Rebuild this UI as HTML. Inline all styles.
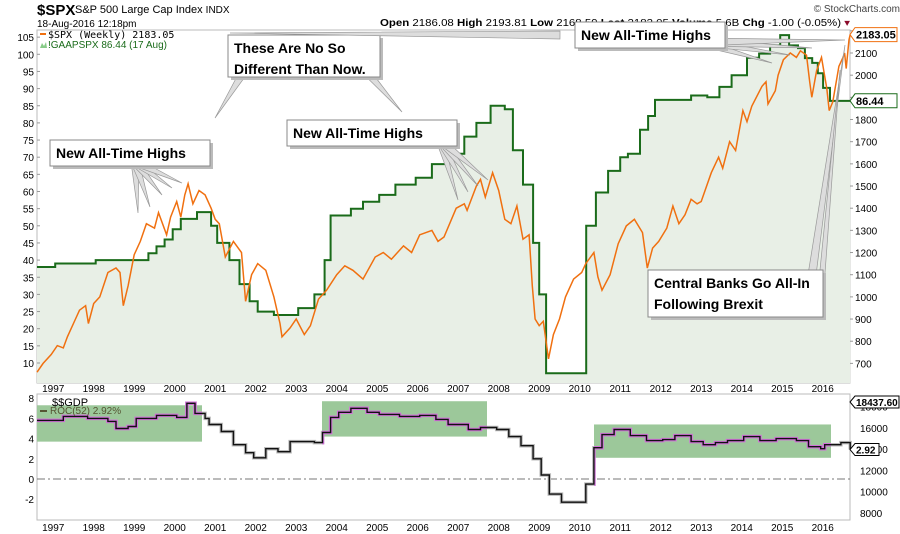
<!DOCTYPE html>
<html><head><meta charset="utf-8"><style>
body{margin:0;background:#fff;width:900px;height:534px;overflow:hidden}
svg{display:block;font-family:"Liberation Sans",sans-serif}
</style></head><body>
<svg id="c" width="900" height="534" viewBox="0 0 900 534">
<g>
<text x="37" y="15" font-size="15" font-weight="bold">$SPX</text>
<text x="75" y="13" font-size="11">S&amp;P 500 Large Cap Index <tspan font-size="10">INDX</tspan></text>
<text x="37" y="27" font-size="10">18-Aug-2016 12:18pm</text>
<text x="380" y="26" font-size="10" textLength="470" lengthAdjust="spacingAndGlyphs"><tspan font-weight="bold">Open</tspan> 2186.08 <tspan font-weight="bold">High</tspan> 2193.81 <tspan font-weight="bold">Low</tspan> 2168.59 <tspan font-weight="bold">Last</tspan> 2183.05 <tspan font-weight="bold">Volume</tspan> 5.6B <tspan font-weight="bold">Chg</tspan> -1.00 (-0.05%) <tspan fill="#8b0a2a">▾</tspan></text>
<text x="900" y="12" font-size="10" fill="#444" text-anchor="end">© StockCharts.com</text>
</g>
<g id="main"></g>
<g id="low"></g>
</svg>
<script>
// ---- data ----
const spxT=[1996.55,1996.7,1996.9,1997.05,1997.2,1997.3,1997.5,1997.6,1997.75,1997.82,1997.95,1998.1,1998.3,1998.5,1998.6,1998.68,1998.8,1998.95,1999.1,1999.25,1999.45,1999.55,1999.75,1999.85,2000.0,2000.1,2000.2,2000.28,2000.4,2000.55,2000.7,2000.85,2000.95,2001.05,2001.2,2001.4,2001.6,2001.7,2001.85,2002.0,2002.2,2002.4,2002.55,2002.6,2002.8,2002.95,2003.15,2003.3,2003.5,2003.7,2003.95,2004.15,2004.35,2004.6,2004.9,2005.1,2005.3,2005.6,2005.8,2006.0,2006.3,2006.45,2006.6,2006.9,2007.1,2007.17,2007.4,2007.5,2007.62,2007.8,2007.95,2008.1,2008.25,2008.4,2008.55,2008.7,2008.78,2008.85,2008.95,2009.05,2009.18,2009.3,2009.45,2009.6,2009.8,2010.0,2010.1,2010.3,2010.4,2010.5,2010.7,2010.9,2011.1,2011.3,2011.5,2011.62,2011.75,2011.9,2012.1,2012.25,2012.4,2012.55,2012.7,2012.85,2012.95,2013.2,2013.38,2013.48,2013.65,2013.8,2013.98,2014.08,2014.2,2014.45,2014.55,2014.6,2014.78,2014.85,2014.98,2015.15,2015.3,2015.4,2015.55,2015.63,2015.68,2015.8,2015.92,2016.05,2016.11,2016.2,2016.35,2016.45,2016.49,2016.53,2016.6,2016.63];
const spxV=[660,700,740,780,770,820,900,940,960,880,970,1000,1110,1130,1110,960,1050,1190,1250,1330,1310,1380,1280,1360,1430,1360,1460,1510,1420,1480,1460,1400,1350,1330,1180,1250,1200,980,1100,1150,1120,1000,880,820,860,900,830,870,990,1030,1100,1140,1120,1080,1180,1200,1170,1230,1200,1280,1300,1250,1270,1400,1420,1390,1500,1530,1450,1560,1480,1350,1330,1410,1260,1280,1050,900,870,890,720,830,900,1000,1080,1110,1150,1200,1090,1030,1100,1240,1320,1350,1290,1130,1220,1250,1310,1410,1330,1370,1440,1420,1430,1560,1630,1580,1700,1660,1840,1790,1860,1950,1970,1870,1930,2000,2070,2100,2080,2110,2090,1970,1900,2020,2080,1940,1840,1880,2040,2080,2100,2030,2160,2183];
const peT=[1996.55,1997.0,1998.0,1999.3,1999.5,1999.7,1999.9,2000.1,2000.5,2000.85,2001.0,2001.3,2001.55,2001.8,2002.0,2002.4,2003.0,2003.4,2003.65,2003.8,2004.3,2004.6,2005.0,2005.4,2005.9,2006.3,2006.7,2007.1,2007.4,2007.75,2008.1,2008.3,2008.55,2008.8,2008.95,2009.12,2010.11,2010.35,2010.65,2010.95,2011.14,2011.44,2011.64,2011.81,2012.7,2013.1,2013.4,2013.7,2014.08,2014.38,2014.65,2014.9,2015.12,2015.34,2015.51,2015.69,2015.83,2015.96,2016.13,2016.63];
const peV=[38,39,40,42,44,46,49,52,54,50,45,40,33,28,25,24,26,30,40,53,55,57,59,62,64,68,71,76,80,85,84,72,62,45,30,7,50,59.7,66,70,71,78,82,86.7,88,87.5,90.5,93.9,99,100.2,102.6,105.6,102.6,101.8,98.9,97.5,94.5,90.2,86.4,86.44];
const gdpT=[1996.55,1997.2,1997.8,1998.3,1998.5,1998.8,1999.0,1999.5,2000.0,2000.25,2000.45,2000.7,2000.8,2001.1,2001.4,2001.7,2001.9,2002.2,2002.5,2002.8,2003.4,2003.6,2003.8,2004.0,2004.3,2004.7,2005.0,2005.5,2006.0,2006.4,2006.7,2007.2,2007.5,2007.9,2008.2,2008.5,2008.8,2009.0,2009.2,2009.5,2009.9,2010.1,2010.3,2010.5,2010.8,2011.2,2011.6,2012.0,2012.3,2012.7,2013.0,2013.3,2013.6,2014.0,2014.4,2014.8,2015.3,2015.6,2015.9,2016.0,2016.4,2016.63];
const gdpV=[5.8,6.2,6.0,5.7,5.0,5.2,6.0,6.3,6.1,7.5,6.5,6.0,5.4,4.7,3.4,2.6,2.1,3.0,2.7,3.7,3.6,4.6,6.1,6.6,7.0,6.6,6.4,6.2,6.3,5.9,5.4,4.9,5.1,4.9,4.2,3.3,2.0,0.4,-1.5,-2.3,-2.3,-0.5,3.1,4.4,4.9,4.3,3.8,3.9,4.3,3.7,3.4,3.6,3.8,4.2,3.8,4.0,3.8,3.2,3.0,3.4,3.6,2.92];
const years=[1997,1998,1999,2000,2001,2002,2003,2004,2005,2006,2007,2008,2009,2010,2011,2012,2013,2014,2015,2016];
const leftTicks=[10,15,20,25,30,35,40,45,50,55,60,65,70,75,80,85,90,95,100,105];
const rightTicks=[700,800,900,1000,1100,1200,1300,1400,1500,1600,1700,1800,1900,2000,2100,2200];
const lowLeftTicks=[-2,0,2,4,6,8];
const lowRightTicks=[8000,10000,12000,14000,16000,18000];

// ---- scales ----
const X=t=>37+(t-1996.55)*40.5;
const YL=v=>363-(v-10)*3.43;
const YR=v=>53+(2100-v)*0.2217;
const YG=v=>479-v*10.1;
const YGR=v=>513-(v-8000)*0.01065;
const NS='http://www.w3.org/2000/svg';
function mk(p,tag,a){const e=document.createElementNS(NS,tag);for(const k in a)e.setAttribute(k,a[k]);p.appendChild(e);return e;}
function stepPts(T,V,ys){let d='';for(let i=0;i<T.length;i++){const x=X(T[i]).toFixed(1);if(i===0)d+='M'+x+','+ys(V[0]).toFixed(1);else d+='L'+x+','+ys(V[i-1]).toFixed(1)+'L'+x+','+ys(V[i]).toFixed(1);}return d;}
const M=document.getElementById('main'),L=document.getElementById('low');

let r=mk(M,'rect',{x:37,y:30,width:813,height:353,fill:'#fff',stroke:'#bbb'});

let d=stepPts(peT,peV,YL);
let f=mk(M,'path',{d:d+'L'+X(2016.63)+',383L37,383Z',fill:'#e8efe6'});

leftTicks.forEach(v=>{let t=mk(M,'text',{x:34,y:YL(v)+4,'font-size':10,'text-anchor':'end'});t.textContent=v;

mk(M,'line',{x1:37,x2:40,y1:YL(v),y2:YL(v),stroke:'#999'});});
rightTicks.forEach(v=>{let t=mk(M,'text',{x:855,y:YR(v)+4,'font-size':10});t.textContent=v;

mk(M,'line',{x1:850,x2:853,y1:YR(v),y2:YR(v),stroke:'#999'});});
years.forEach(y=>{let t=mk(M,'text',{x:X(y)-2,y:392,'font-size':10,'text-anchor':'middle'});t.textContent=y;

let t2=mk(L,'text',{x:X(y)-2,y:531,'font-size':10,'text-anchor':'middle'});t2.textContent=y;
});
let pl=mk(M,'path',{d:d,fill:'none',stroke:'#1a6b1a','stroke-width':2});

let sd=spxT.map((t,i)=>(i?'L':'M')+X(t).toFixed(1)+','+YR(spxV[i]).toFixed(1)).join('');
let sl=mk(M,'path',{d:sd,fill:'none',stroke:'#f07010','stroke-width':1.5});


function wedge(x1,y1,x2,y2,w){const dx=x2-x1,dy=y2-y1,l=Math.hypot(dx,dy),nx=-dy/l*w,ny=dx/l*w;
const p=mk(M,'polygon',{points:`${x1+nx},${y1+ny} ${x1-nx},${y1-ny} ${x2},${y2}`,fill:'#ddd',stroke:'#999','stroke-width':0.7});
}
function box(x,y,w,h,lines,name){mk(M,'rect',{x:x+3,y:y+3,width:w,height:h,fill:'#bbb'});
const b=mk(M,'rect',{x:x,y:y,width:w,height:h,fill:'#fff',stroke:'#888'});

lines.forEach((s,i)=>{const t=mk(M,'text',{x:x+6,y:y+18+i*21,'font-size':14,'font-weight':'bold'});t.textContent=s;
});}
[[138,213],[150,207],[162,195],[172,188],[182,183]].forEach(p=>wedge(135,162,p[0],p[1],4));
box(50,140,160,26,['New All-Time Highs'],'callout-ath-2000');
wedge(245,70,215,118,4);wedge(365,70,402,112,4);
box(228,35,152,42,['These Are No So','Different Than Now.'],'callout-not-different');
[[458,200],[468,192],[478,186],[488,180]].forEach(p=>wedge(440,140,p[0],p[1],4));
box(287,120,170,26,['New All-Time Highs'],'callout-ath-2007');
wedge(560,35,230,33,4);
[[772,63],[790,55],[812,48],[845,40]].forEach(p=>wedge(700,42,p[0],p[1],4));
box(575,22,150,26,['New All-Time Highs'],'callout-ath-2015');
wedge(812,275,845,45,4);wedge(820,300,840,70,3);
box(648,270,175,47,['Central Banks Go All-In','Following Brexit'],'callout-brexit');

let lg=mk(M,'text',{x:48,y:38,'font-size':10,'font-family':'DejaVu Sans Mono,monospace'});lg.textContent='$SPX (Weekly) 2183.05';

mk(M,'rect',{x:40,y:33,width:6,height:2,fill:'#f07010'});
let lg2=mk(M,'text',{x:48,y:48,'font-size':10,fill:'#1a6b1a'});lg2.textContent='!GAAPSPX 86.44 (17 Aug)';

mk(M,'path',{d:'M40,48L42,43L44,46L46,42L47,48Z',fill:'#8c8'});
function tag(y,txt,col,name){const g=mk(M,'g',{});
mk(g,'path',{d:`M850,${y}L855,${y-7}H897V${y+7}H855Z`,fill:'#fff',stroke:col});
const t=mk(g,'text',{x:856,y:y+4,'font-size':11,'font-weight':'bold'});t.textContent=txt;}
tag(YR(2183.05),'2183.05','#f07010','spx-value-tag');tag(YL(86.44),'86.44','#1a6b1a','pe-value-tag');

let lr=mk(L,'rect',{x:37,y:394,width:813,height:126,fill:'#fff',stroke:'#bbb'});

[[37,202,7.3,3.7],[322,487,7.7,4.2],[594,831,5.4,2.1]].forEach(b=>{const e=mk(L,'rect',{x:b[0],y:YG(b[2]),width:b[1]-b[0],height:YG(b[3])-YG(b[2]),fill:'#9cc89a'});
});
mk(L,'line',{x1:37,x2:850,y1:YG(0),y2:YG(0),stroke:'#777','stroke-dasharray':'8,3,2,3'});
lowLeftTicks.forEach(v=>{let t=mk(L,'text',{x:34,y:YG(v)+4,'font-size':10,'text-anchor':'end'});t.textContent=v;
});
lowRightTicks.forEach(v=>{let t=mk(L,'text',{x:860,y:YGR(v)+4,'font-size':10});t.textContent=v;
});
let gd=stepPts(gdpT,gdpV,YG);
mk(L,'path',{d:gd,fill:'none',stroke:'#bbb','stroke-width':3.5});
let cp=mk(L,'clipPath',{id:'hl'});[[37,202],[322,487],[594,831]].forEach(b=>mk(cp,'rect',{x:b[0],y:394,width:b[1]-b[0],height:126}));
mk(L,'path',{d:gd,fill:'none',stroke:'#d070d8','stroke-width':3.5,'clip-path':'url(#hl)'});
let gl=mk(L,'path',{d:gd,fill:'none',stroke:'#111','stroke-width':1.4});

let l1=mk(L,'text',{x:52,y:406,'font-size':11});l1.textContent='$$GDP';

mk(L,'rect',{x:40,y:410,width:7,height:2,fill:'#553'});
let l2=mk(L,'text',{x:50,y:414,'font-size':10,fill:'#553'});l2.textContent='ROC(52) 2.92%';

function tag2(y,txt,w,name){const g=mk(L,'g',{});
mk(g,'path',{d:`M850,${y}L855,${y-6}H${855+w}V${y+6}H855Z`,fill:'#fff',stroke:'#000'});
const t=mk(g,'text',{x:856,y:y+4,'font-size':10,'font-weight':'bold'});t.textContent=txt;}
tag2(402,'18437.60',44,'gdp-value-tag');tag2(YG(2.92),'2.92',24,'roc-value-tag');
</script>
</body></html>
